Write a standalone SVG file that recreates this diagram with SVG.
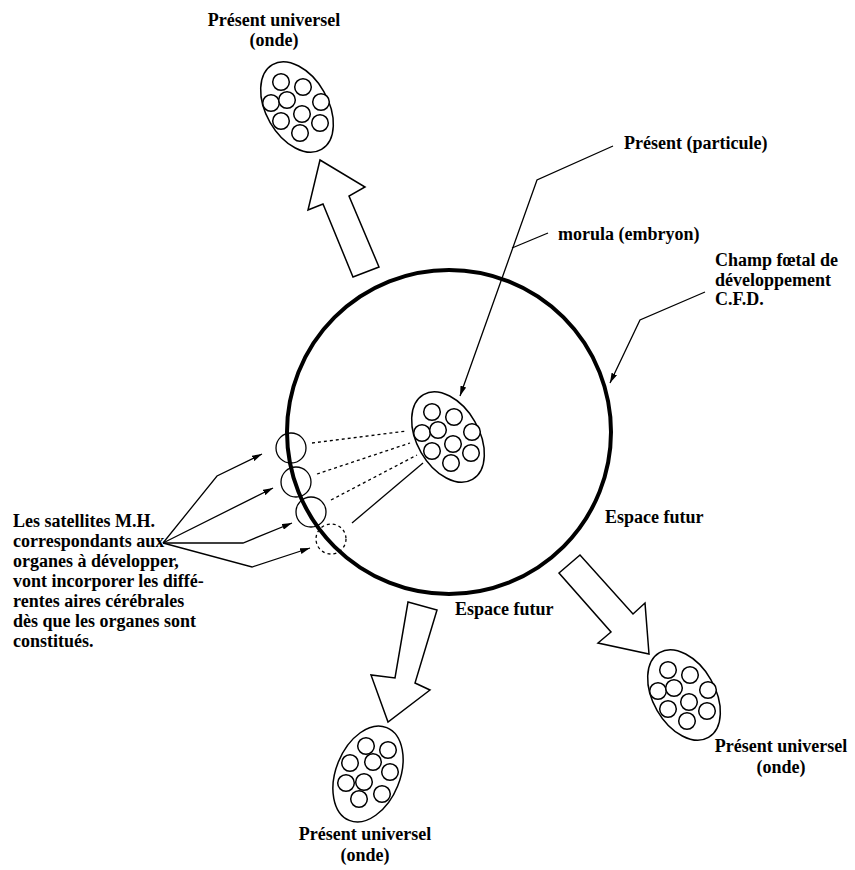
<svg xmlns="http://www.w3.org/2000/svg" width="855" height="870" viewBox="0 0 855 870">
<style>
text{font-family:"Liberation Serif","Times New Roman",serif;font-weight:bold;font-size:18px;fill:#000}
.thin{fill:none;stroke:#000;stroke-width:1.3}
.cell{fill:#fff;stroke:#000;stroke-width:1.5}
.blk{fill:#fff;stroke:#000;stroke-width:1.5;stroke-linejoin:miter}
.dot{fill:none;stroke:#000;stroke-width:1.3;stroke-dasharray:3,3}
</style>
<defs>
<marker id="ah" viewBox="0 0 10 6" refX="10" refY="3" markerWidth="10" markerHeight="6" markerUnits="userSpaceOnUse" orient="auto">
<path d="M0,0 L10,3 L0,6 z" fill="#000"/>
</marker>
<g id="morula">
<ellipse cx="0" cy="0" rx="31" ry="49" transform="rotate(-30)" class="cell"/>
<circle cx="-16" cy="-25" r="8.3" class="cell"/>
<circle cx="6" cy="-20" r="8.3" class="cell"/>
<circle cx="-26" cy="-4" r="8.3" class="cell"/>
<circle cx="-10" cy="-7" r="8.3" class="cell"/>
<circle cx="24" cy="-5" r="8.3" class="cell"/>
<circle cx="5" cy="7" r="8.3" class="cell"/>
<circle cx="-16" cy="14" r="8.3" class="cell"/>
<circle cx="23" cy="16" r="8.3" class="cell"/>
<circle cx="3" cy="26" r="8.3" class="cell"/>
</g>
</defs>
<rect width="855" height="870" fill="#fff"/>

<g id="cfd">
<circle cx="449" cy="432" r="162" fill="none" stroke="#000" stroke-width="4"/>
</g>

<g id="connectors">
<polyline class="thin" points="613,146 537,180 460,396" marker-end="url(#ah)"/>
<polyline class="thin" points="548,233 512,248"/>
<polyline class="thin" points="705,292 640,320 610,383" marker-end="url(#ah)"/>
<line class="dot" x1="312" y1="443" x2="407" y2="431"/>
<line class="dot" x1="317" y1="474" x2="410" y2="443"/>
<line class="dot" x1="331" y1="500" x2="417" y2="455"/>
<line class="thin" x1="352" y1="523" x2="423" y2="463"/>
<polyline class="thin" points="163,543 217,476 262,454" marker-end="url(#ah)"/>
<polyline class="thin" points="163,543 273,488" marker-end="url(#ah)"/>
<polyline class="thin" points="163,543 243,543 292,523" marker-end="url(#ah)"/>
<polyline class="thin" points="163,543 252,567 310,548" marker-end="url(#ah)"/>
</g>

<g id="satellites">
<circle cx="291" cy="448" r="15" class="thin"/>
<circle cx="296" cy="482" r="15" class="thin"/>
<circle cx="311" cy="512" r="15" class="thin"/>
<circle cx="331" cy="539" r="15" class="dot"/>
</g>

<g id="morula-center"><use href="#morula" x="448" y="437"/></g>
<g id="onde-top"><use href="#morula" x="297" y="107"/></g>
<g id="onde-right"><use href="#morula" x="684" y="695"/></g>
<g id="onde-bottom">
<ellipse cx="368" cy="774" rx="32" ry="50" transform="rotate(22 368 774)" class="cell"/>
<circle cx="366" cy="746" r="8.3" class="cell"/>
<circle cx="388" cy="750" r="8.3" class="cell"/>
<circle cx="350" cy="763" r="8.3" class="cell"/>
<circle cx="373" cy="762" r="8.3" class="cell"/>
<circle cx="390" cy="772" r="8.3" class="cell"/>
<circle cx="364" cy="782" r="8.3" class="cell"/>
<circle cx="346" cy="783" r="8.3" class="cell"/>
<circle cx="382" cy="794" r="8.3" class="cell"/>
<circle cx="359" cy="799" r="8.3" class="cell"/>
</g>

<g id="arrow-top"><polygon class="blk" points="320,160 365,187 349,196 379,267 353,277 323,204 308,210"/></g>
<g id="arrow-bottom"><polygon class="blk" points="408,602 437,610 415,683 430,690 388,722 371,675 395,678"/></g>
<g id="arrow-right"><polygon class="blk" points="559,573 580,555 633,614 645,603 649,654 598,643 611,632"/></g>

<g id="labels">
<text x="274" y="26" text-anchor="middle">Présent universel</text>
<text x="274" y="46" text-anchor="middle">(onde)</text>
<text x="624" y="149">Présent (particule)</text>
<text x="558" y="240">morula (embryon)</text>
<text x="715" y="266">Champ fœtal de</text>
<text x="715" y="286">développement</text>
<text x="715" y="305">C.F.D.</text>
<text x="605" y="523">Espace futur</text>
<text x="455" y="615">Espace futur</text>
<text x="781" y="752" text-anchor="middle">Présent universel</text>
<text x="781" y="773" text-anchor="middle">(onde)</text>
<text x="365" y="840" text-anchor="middle">Présent universel</text>
<text x="365" y="861" text-anchor="middle">(onde)</text>
<text x="13" y="527">Les satellites M.H.</text>
<text x="13" y="547">correspondants aux</text>
<text x="13" y="567">organes à développer,</text>
<text x="13" y="587">vont incorporer les diffé-</text>
<text x="13" y="607">rentes aires cérébrales</text>
<text x="13" y="627">dès que les organes sont</text>
<text x="13" y="647">constitués.</text>
</g>
</svg>
